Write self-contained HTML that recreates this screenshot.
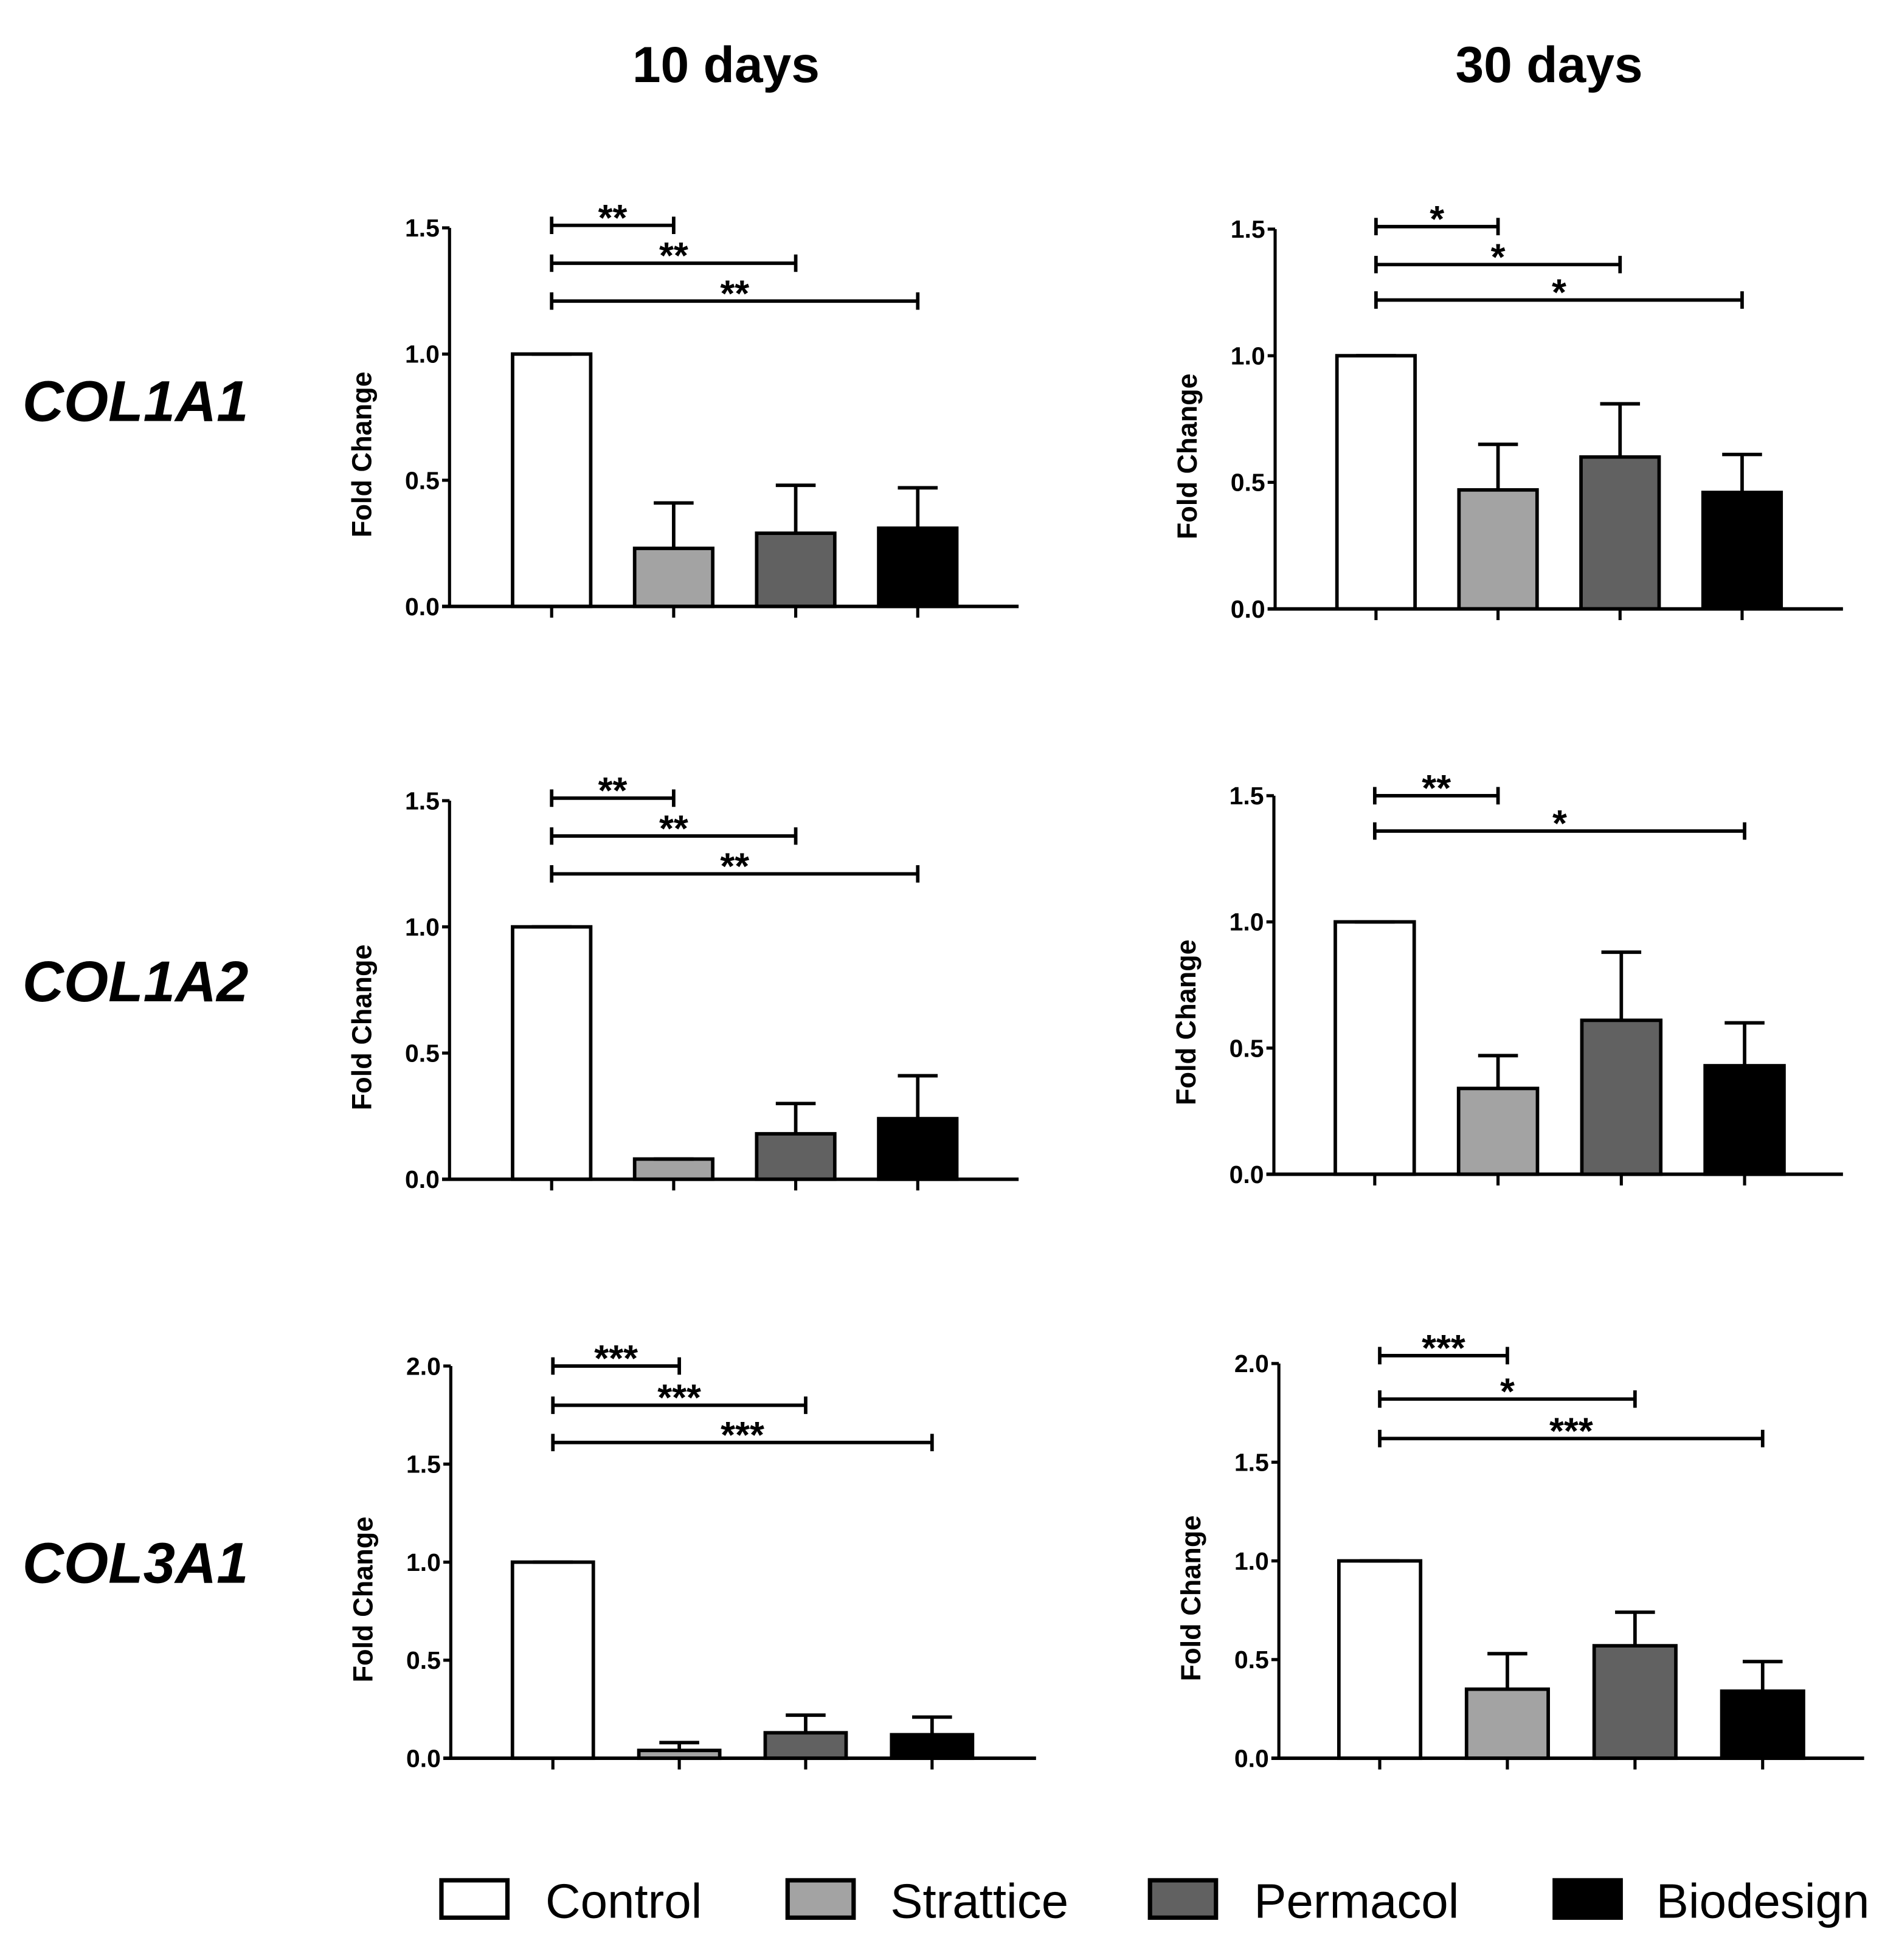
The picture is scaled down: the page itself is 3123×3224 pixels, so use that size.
<!DOCTYPE html>
<html><head><meta charset="utf-8"><style>
html,body{margin:0;padding:0;background:#fff}
svg{display:block}
text{font-family:"Liberation Sans",sans-serif;fill:#000}
</style></head><body>
<svg id="fig" width="3123" height="3224" viewBox="0 0 1525 1574" preserveAspectRatio="none" xmlns="http://www.w3.org/2000/svg">
<text x="583" y="66" font-size="41" font-weight="bold" text-anchor="middle">10 days</text>
<text x="1244" y="66" font-size="41" font-weight="bold" text-anchor="middle">30 days</text>
<text x="18" y="338" font-size="46" font-weight="bold" font-style="italic">COL1A1</text>
<text x="18" y="804" font-size="46" font-weight="bold" font-style="italic">COL1A2</text>
<text x="18" y="1271" font-size="46" font-weight="bold" font-style="italic">COL3A1</text>
<g id="legend"></g>
</svg>
<script>
const groups = ["Control","Strattice","Permacol","Biodesign"];
const fills = ["#ffffff","#a3a3a3","#616161","#000000"];
// Panel data
const p1Values = [1.0, 0.23, 0.29, 0.31];
const p1Errors = [0.0, 0.18, 0.19, 0.16];
const p2Values = [1.0, 0.47, 0.60, 0.46];
const p2Errors = [0.0, 0.18, 0.21, 0.15];
const p3Values = [1.0, 0.08, 0.18, 0.24];
const p3Errors = [0.0, 0.0, 0.12, 0.17];
const p4Values = [1.0, 0.34, 0.61, 0.43];
const p4Errors = [0.0, 0.13, 0.27, 0.17];
const p5Values = [1.0, 0.04, 0.13, 0.12];
const p5Errors = [0.0, 0.04, 0.09, 0.09];
const p6Values = [1.0, 0.35, 0.57, 0.34];
const p6Errors = [0.0, 0.18, 0.17, 0.15];
const ticks15 = [0, 0.5, 1.0, 1.5];
const ticks20 = [0, 0.5, 1.0, 1.5, 2.0];
const tickLabels15 = ["0.0","0.5","1.0","1.5"];
const tickLabels20 = ["0.0","0.5","1.0","1.5","2.0"];
// significance brackets: [target group index, level (data units), label]
const p1Sig = [[1,1.51,"**"],[2,1.36,"**"],[3,1.21,"**"]];
const p2Sig = [[1,1.51,"*"],[2,1.36,"*"],[3,1.22,"*"]];
const p3Sig = [[1,1.51,"**"],[2,1.36,"**"],[3,1.21,"**"]];
const p4Sig = [[1,1.50,"**"],[3,1.36,"*"]];
const p5Sig = [[1,2.0,"***"],[2,1.80,"***"],[3,1.61,"***"]];
const p6Sig = [[1,2.04,"***"],[2,1.82,"*"],[3,1.62,"***"]];

const NS="http://www.w3.org/2000/svg";
const fig=document.getElementById('fig');
function el(tag,attrs,parent){const e=document.createElementNS(NS,tag);for(const k in attrs)e.setAttribute(k,attrs[k]);(parent||fig).appendChild(e);return e;}

const panels=[
 {name:"col1a1-10d",ax:361,y0:487,yTop:183,max:1.5,xEnd:818,c0:443,step:98,vals:p1Values,errs:p1Errors,ticks:ticks15,labels:tickLabels15,sig:p1Sig},
 {name:"col1a1-30d",ax:1024,y0:489,yTop:184,max:1.5,xEnd:1480,c0:1105,step:98,vals:p2Values,errs:p2Errors,ticks:ticks15,labels:tickLabels15,sig:p2Sig},
 {name:"col1a2-10d",ax:361,y0:947,yTop:643,max:1.5,xEnd:818,c0:443,step:98,vals:p3Values,errs:p3Errors,ticks:ticks15,labels:tickLabels15,sig:p3Sig},
 {name:"col1a2-30d",ax:1023,y0:943,yTop:639,max:1.5,xEnd:1480,c0:1104,step:99,vals:p4Values,errs:p4Errors,ticks:ticks15,labels:tickLabels15,sig:p4Sig},
 {name:"col3a1-10d",ax:362,y0:1412,yTop:1097,max:2.0,xEnd:832,c0:444,step:101.5,vals:p5Values,errs:p5Errors,ticks:ticks20,labels:tickLabels20,sig:p5Sig},
 {name:"col3a1-30d",ax:1027,y0:1412,yTop:1095,max:2.0,xEnd:1497,c0:1108,step:102.5,vals:p6Values,errs:p6Errors,ticks:ticks20,labels:tickLabels20,sig:p6Sig}
];

panels.forEach(p=>{
  const g=el('g',{});
  
  
  const y=v=>p.y0-(v/p.max)*(p.y0-p.yTop);
  const x=i=>p.c0+i*p.step;
  const bw=p.step*0.64;
  p.vals.forEach((v,i)=>{
    const r=el('rect',{x:x(i)-bw/2,y:y(v),width:bw,height:p.y0-y(v),fill:fills[i],stroke:'#000','stroke-width':2.8},g);
    
    
    const top=v+p.errs[i];
    const e=el('path',{d:`M${x(i)} ${y(v)}V${y(top)}M${x(i)-16} ${y(top)}H${x(i)+16}`,stroke:'#000','stroke-width':2.8,fill:'none'},g);
    
    
  });
  const ya=el('path',{d:`M${p.ax} ${p.yTop}V${p.y0}`,stroke:'#000','stroke-width':2.5},g);
  
  
  const xa=el('path',{d:`M${p.ax-6} ${p.y0}H${p.xEnd}`,stroke:'#000','stroke-width':2.8},g);
  
  
  p.vals.forEach((v,i)=>{el('path',{d:`M${x(i)} ${p.y0}V${p.y0+9}`,stroke:'#000','stroke-width':2.5},g);});
  p.ticks.forEach((t,k)=>{
    el('path',{d:`M${p.ax-6} ${y(t)}H${p.ax}`,stroke:'#000','stroke-width':2.5},g);
    const tl=el('text',{x:p.ax-8,y:y(t)+7,'font-size':20,'font-weight':'bold','text-anchor':'end'},g);
    tl.textContent=p.labels[k];
    
    
  });
  const cy=(p.y0+p.yTop)/2+30;
  const yt=el('text',{x:p.ax-63,y:cy,'font-size':22,'font-weight':'bold','text-anchor':'middle',transform:`rotate(-90 ${p.ax-63} ${cy})`},g);
  yt.textContent='Fold Change';
  
  
  p.sig.forEach(s=>{
    const yy=y(s[1]);const x1=x(0),x2=x(s[0]);
    const b=el('path',{d:`M${x1} ${yy-7}V${yy+7}M${x1} ${yy}H${x2}M${x2} ${yy-7}V${yy+7}`,stroke:'#000','stroke-width':2.8,fill:'none'},g);
    
    
    const st=el('text',{x:(x1+x2)/2,y:yy+4,'font-size':30,'font-weight':'bold','text-anchor':'middle'},g);
    st.textContent=s[2];
    
    
  });
});

const legBoxX=[353,631,922,1247];
const legTextX=[438,715,1007,1330];
const lg=document.getElementById('legend');
groups.forEach((gname,i)=>{
  const r=el('rect',{x:legBoxX[i]+1.5,y:1510,width:53,height:30,fill:fills[i],stroke:'#000','stroke-width':3.5},lg);
  
  
  const t=el('text',{x:legTextX[i],y:1540,'font-size':39},lg);
  t.textContent=gname;
  
  
});
</script>
</body></html>
